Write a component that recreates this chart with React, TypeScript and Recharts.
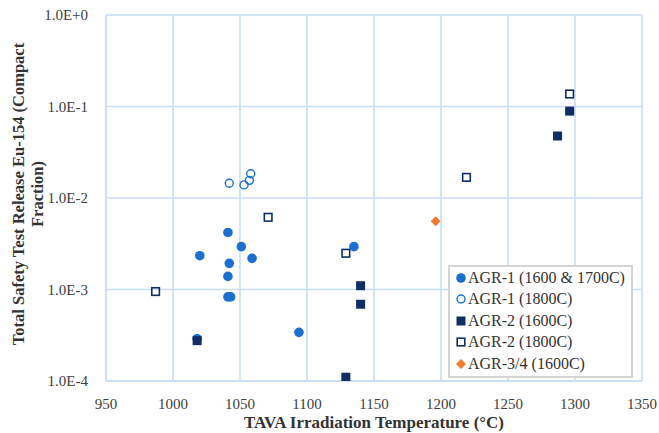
import { ScatterChart, Scatter, XAxis, YAxis, CartesianGrid } from 'recharts'

// TAVA irradiation temperature (°C) and Eu-154 release fraction, per series
const AGR1_LOW_X = [1041, 1051, 1020, 1042, 1059, 1041, 1041, 1043, 1094, 1018, 1135]
const AGR1_LOW_Y = [0.0042, 0.00294, 0.00234, 0.00193, 0.00219, 0.00139, 0.00083, 0.00083, 0.00034, 0.00029, 0.00294]

const AGR1_HIGH_X = [1042, 1053, 1057, 1058]
const AGR1_HIGH_Y = [0.0145, 0.0139, 0.0156, 0.0184]

const AGR2_LOW_X = [1296, 1287, 1140, 1140, 1129, 1018]
const AGR2_LOW_Y = [0.089, 0.0476, 0.0011, 0.00069, 0.00011, 0.000276]

const AGR2_HIGH_X = [1296, 1219, 1071, 987, 1129]
const AGR2_HIGH_Y = [0.137, 0.0168, 0.00615, 0.00095, 0.00249]

const AGR34_X = [1196]
const AGR34_Y = [0.00556]

const X_TICKS = [950, 1000, 1050, 1100, 1150, 1200, 1250, 1300, 1350]
const Y_TICKS = [0.0001, 0.001, 0.01, 0.1, 1]
const Y_TICK_LABELS = ['1.0E-4', '1.0E-3', '1.0E-2', '1.0E-1', '1.0E+0']

const BLUE = '#1b6fd1'
const NAVY = '#0f2f64'
const ORANGE = '#f07b2c'
const GRID = '#c9def5'
const SERIF = '"Liberation Serif", "Times New Roman", serif'

const toPoints = (xs: number[], ys: number[]) => xs.map((x, i) => ({ x, y: ys[i] }))

const SERIES = [
  { name: 'AGR-1 (1600 & 1700C)', kind: 'dot', data: toPoints(AGR1_LOW_X, AGR1_LOW_Y) },
  { name: 'AGR-1 (1800C)', kind: 'ring', data: toPoints(AGR1_HIGH_X, AGR1_HIGH_Y) },
  { name: 'AGR-2 (1600C)', kind: 'box', data: toPoints(AGR2_LOW_X, AGR2_LOW_Y) },
  { name: 'AGR-2 (1800C)', kind: 'frame', data: toPoints(AGR2_HIGH_X, AGR2_HIGH_Y) },
  { name: 'AGR-3/4 (1600C)', kind: 'diamond', data: toPoints(AGR34_X, AGR34_Y) },
]

function Marker({ kind, cx, cy }: { kind: string; cx: number; cy: number }) {
  switch (kind) {
    case 'dot':
      return <circle cx={cx} cy={cy} r={4.8} fill={BLUE} />
    case 'ring':
      return <circle cx={cx} cy={cy} r={4} fill="none" stroke={BLUE} strokeWidth={1.4} />
    case 'box':
      return <rect x={cx - 4.5} y={cy - 4.5} width={9} height={9} fill={NAVY} />
    case 'frame':
      return <rect x={cx - 3.8} y={cy - 3.8} width={7.6} height={7.6} fill="none" stroke={NAVY} strokeWidth={1.6} />
    default:
      return <path d={`M${cx},${cy - 5} L${cx + 5},${cy} L${cx},${cy + 5} L${cx - 5},${cy} Z`} fill={ORANGE} />
  }
}

function LegendBox() {
  return (
    <div
      style={{
        position: 'absolute',
        left: 448,
        top: 265,
        border: '2px solid #d4d4d4',
        background: '#fff',
        padding: '0 4px 1px 5px',
        fontFamily: SERIF,
        fontSize: 16,
        color: '#333',
        width: 172,
        whiteSpace: 'nowrap',
      }}
    >
      {SERIES.map((s) => (
        <div key={s.name} style={{ display: 'flex', alignItems: 'center', height: 21.5 }}>
          <svg width={12} height={12} style={{ marginRight: 1 }}>
            <Marker kind={s.kind} cx={6} cy={6} />
          </svg>
          <span>{s.name}</span>
        </div>
      ))}
    </div>
  )
}

function YTitle(props: any) {
  const { viewBox } = props
  const cy = viewBox.y + viewBox.height / 2 - 4
  return (
    <text
      transform={`rotate(-90, 0, ${cy})`}
      x={0}
      y={cy}
      textAnchor="middle"
      fontFamily={SERIF}
      fontWeight="bold"
      fontSize={16.5}
      fill="#333"
    >
      <tspan x={0} dy={24}>Total Safety Test Release Eu-154 (Compact</tspan>
      <tspan x={0} dy={19}>Fraction)</tspan>
    </text>
  )
}

export default function App() {
  return (
    <div style={{ position: 'absolute', left: 0, top: 0, width: 659, height: 433, background: '#fff' }}>
      <ScatterChart width={659} height={433} margin={{ top: 15, right: 17, left: 0, bottom: 0 }}>
        <CartesianGrid stroke={GRID} strokeWidth={1.6} />
        <XAxis
          type="number"
          dataKey="x"
          domain={[950, 1350]}
          ticks={X_TICKS}
          interval={0}
          height={52}
          axisLine={{ stroke: GRID, strokeWidth: 1.6 }}
          tickLine={false}
          tickMargin={11}
          tick={{ fontFamily: SERIF, fontSize: 15, fill: '#404040' }}
          label={{
            value: 'TAVA Irradiation  Temperature (°C)',
            position: 'insideBottom',
            offset: 5,
            style: { fontFamily: SERIF, fontWeight: 'bold', fontSize: 17, fill: '#333', whiteSpace: 'pre' },
          }}
        />
        <YAxis
          type="number"
          dataKey="y"
          scale="log"
          domain={[0.0001, 1]}
          allowDataOverflow
          ticks={Y_TICKS}
          interval={0}
          width={106}
          axisLine={{ stroke: GRID, strokeWidth: 1.6 }}
          tickLine={false}
          tickMargin={12}
          tickFormatter={(v: number) => Y_TICK_LABELS[Y_TICKS.indexOf(v)] ?? ''}
          tick={{ fontFamily: SERIF, fontSize: 15, fill: '#404040' }}
          label={<YTitle />}
        />
        {SERIES.map((s) => (
          <Scatter
            key={s.name}
            name={s.name}
            data={s.data}
            isAnimationActive={false}
            shape={(p: any) => <Marker kind={s.kind} cx={p.cx} cy={p.cy} />}
          />
        ))}
      </ScatterChart>
      <LegendBox />
    </div>
  )
}
